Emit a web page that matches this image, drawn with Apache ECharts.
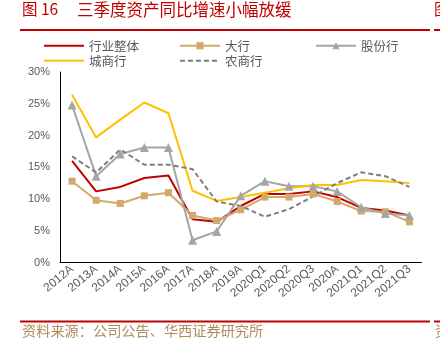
<!DOCTYPE html>
<html>
<head>
<meta charset="utf-8">
<script src="https://cdn.jsdelivr.net/npm/echarts@6/dist/echarts.min.js"></script>
<style>
  html, body { margin: 0; padding: 0; background: #fff; }
  #chart { width: 440px; height: 342px; }
</style>
</head>
<body>
<div id="chart"></div>
<script>
// Period labels on the category axis
const categories = ['2012A', '2013A', '2014A', '2015A', '2016A', '2017A', '2018A', '2019A',
  '2020Q1', '2020Q2', '2020Q3', '2020A', '2021Q1', '2021Q2', '2021Q3'];

// Year-on-year asset growth (%) by bank type
const industry = [16.0, 11.2, 11.9, 13.3, 13.7, 6.8, 6.4, 8.9, 10.8, 10.8, 11.2, 10.3, 8.6, 8.2, 7.4];
const bigBanks = [12.8, 9.8, 9.3, 10.5, 11.0, 7.4, 6.6, 8.3, 10.3, 10.3, 10.8, 9.6, 8.1, 8.0, 6.4];
const jointStock = [24.8, 13.6, 17.1, 18.1, 18.1, 3.5, 4.9, 10.5, 12.8, 12.0, 12.0, 11.2, 8.7, 7.7, 7.4];
const cityBanks = [26.4, 19.7, 22.5, 25.2, 23.5, 11.3, 9.7, 10.3, 11.0, 11.7, 12.2, 12.2, 13.0, 12.8, 12.5];
const ruralBanks = [16.7, 14.2, 17.8, 15.4, 15.4, 14.7, 9.6, 8.9, 7.2, 8.4, 10.4, 12.5, 14.2, 13.6, 11.9];

// Value-axis ticks
const yTicks = [0, 5, 10, 15, 20, 25, 30];

const chart = echarts.init(document.getElementById('chart'));
const textGray = '#595959';
const cjk = '"Noto Sans CJK SC", "Noto Sans", sans-serif';

// One legend per entry so each can sit at its own spot
function legendAt(name, left, top, lineOnly) {
  const item = { name: name };
  if (lineOnly) item.itemStyle = { opacity: 0 };
  return {
    data: [item], left: left, top: top, padding: 0,
    itemWidth: 40, itemHeight: 9, itemGap: 5,
    selectedMode: false,
    textStyle: { color: textGray, fontSize: 12.5, fontFamily: cjk }
  };
}

chart.setOption({
  animation: false,
  backgroundColor: '#fff',
  grid: { left: 60, right: 18.5, top: 72, bottom: 79.5, containLabel: false },
  legend: [
    legendAt('行业整体', 43, 39.5, true),
    legendAt('大行', 179, 39.5, false),
    legendAt('股份行', 315, 39.5, false),
    legendAt('城商行', 43, 54.5, true),
    legendAt('农商行', 179, 54.5, true)
  ],
  xAxis: {
    type: 'category',
    data: categories,
    boundaryGap: true,
    axisLine: { lineStyle: { color: '#000', width: 1 } },
    axisTick: { inside: true, length: 3, lineStyle: { color: '#000' } },
    axisLabel: { rotate: 40, color: textGray, fontSize: 12, fontFamily: 'Liberation Sans, Arial, sans-serif', margin: 5, interval: 0 },
    splitLine: { show: false }
  },
  yAxis: {
    type: 'value',
    min: yTicks[0], max: yTicks[yTicks.length - 1], interval: 5,
    axisLine: { show: true, lineStyle: { color: '#000', width: 1 } },
    axisTick: { show: false },
    splitLine: { show: false },
    axisLabel: { color: textGray, fontSize: 11, fontFamily: 'Liberation Sans, Arial, sans-serif', margin: 10, formatter: '{value}%' }
  },
  series: [
    { name: '行业整体', type: 'line', data: industry, symbol: 'none',
      lineStyle: { color: '#c00000', width: 2 }, itemStyle: { color: '#c00000' } },
    { name: '大行', type: 'line', data: bigBanks, symbol: 'rect', symbolSize: 7,
      lineStyle: { color: '#d3a86a', width: 2 }, itemStyle: { color: '#d3a86a' } },
    { name: '股份行', type: 'line', data: jointStock, symbol: 'triangle', symbolSize: 9,
      lineStyle: { color: '#a5a5a5', width: 2 }, itemStyle: { color: '#a5a5a5' } },
    { name: '城商行', type: 'line', data: cityBanks, symbol: 'none',
      lineStyle: { color: '#ffc000', width: 2 }, itemStyle: { color: '#ffc000' } },
    { name: '农商行', type: 'line', data: ruralBanks, symbol: 'none',
      lineStyle: { color: '#7f7f7f', width: 2, type: [5, 3] }, itemStyle: { color: '#7f7f7f' } }
  ],
  graphic: [
    { type: 'text', left: 22, top: 1.5, style: { text: '图 16', fill: '#c00000', font: '15.5px ' + cjk } },
    { type: 'text', left: 77, top: 1, style: { text: '三季度资产同比增速小幅放缓', fill: '#c00000', font: '16.5px ' + cjk } },
    { type: 'rect', shape: { x: 20, y: 29, width: 410, height: 2 }, style: { fill: '#c00000' } },
    { type: 'rect', shape: { x: 434, y: 29, width: 6, height: 2 }, style: { fill: '#c00000' } },
    { type: 'text', left: 434, top: 1.5, style: { text: '图', fill: '#c00000', font: '15.5px ' + cjk } },
    { type: 'rect', shape: { x: 20, y: 320.5, width: 410, height: 2 }, style: { fill: '#c00000' } },
    { type: 'rect', shape: { x: 434, y: 320.5, width: 6, height: 2 }, style: { fill: '#c00000' } },
    { type: 'text', left: 22, top: 324, style: { text: '资料来源：公司公告、华西证券研究所', fill: '#b08b5b', font: '14.2px ' + cjk } },
    { type: 'text', left: 435, top: 324, style: { text: '资', fill: '#b08b5b', font: '14.2px ' + cjk } }
  ]
});
</script>
</body>
</html>
